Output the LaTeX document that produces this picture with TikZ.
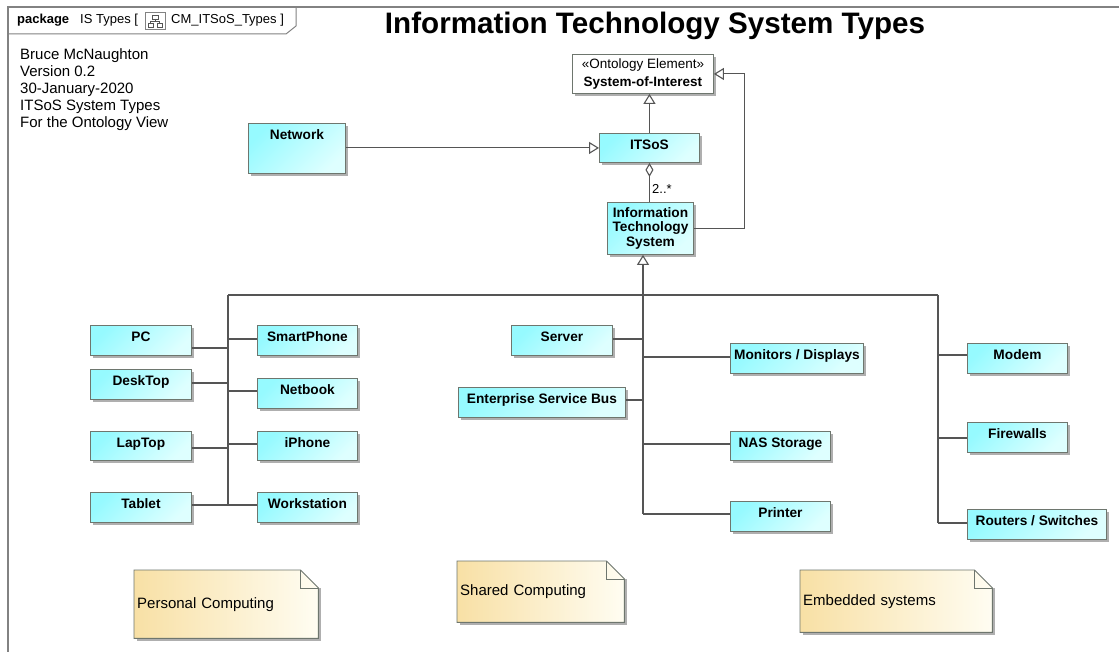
\documentclass[tikz,border=0pt]{standalone}
\usepackage{fontspec}
\setmainfont{Liberation Sans}
\usetikzlibrary{arrows.meta,shadows,backgrounds}
\definecolor{cyanA}{RGB}{150,250,255}
\definecolor{cyanB}{RGB}{222,255,255}
\definecolor{bordc}{RGB}{110,118,110}
\definecolor{linec}{RGB}{85,85,85}
\definecolor{frmc}{RGB}{130,130,130}
\definecolor{noteA}{RGB}{248,224,165}
\definecolor{noteB}{RGB}{255,253,242}
\definecolor{shadc}{RGB}{175,175,175}
\begin{document}
\begin{tikzpicture}[x=1pt,y=-1pt,
  clsbase/.style={draw=bordc, line width=0.9pt, anchor=north west, inner xsep=2pt, inner ysep=0pt,
    font=\fontsize{13.7}{15}\selectfont\bfseries,
    drop shadow={shadow xshift=3pt, shadow yshift=-3pt, fill=shadc, opacity=1}},
  cls/.style={clsbase, top color=cyanA, bottom color=cyanB, shading angle=45},
  toptext/.style={text height=16pt, text depth=#1},
  conn/.style={draw=linec, line width=1.1pt},
  gen/.style={conn, -{Triangle[open, length=10pt, width=12pt, line width=1.1pt]}},
  agg/.style={conn, {Diamond[open, length=14pt, width=8pt, line width=1.1pt]}-},
  plain/.style={inner sep=0pt, font=\fontsize{15}{17}\selectfont},
  small/.style={inner sep=0pt, font=\fontsize{13}{15}\selectfont},
  notetxt/.style={anchor=north west, inner xsep=3pt, inner ysep=0pt, text width=178pt, align=left, font=\fontsize{15}{17}\selectfont}
]
\useasboundingbox (0,0) rectangle (1119,652);

% frame
\draw[frmc, line width=2pt] (1125,7) -- (8,7) -- (8,660);
\draw[frmc, line width=1pt] (8,34) -- (286,34) -- (296,26) -- (296,7);
\node[small, anchor=base west] (pkg) at (17,24) {\textbf{package}\hspace{11pt}IS Types [};
\draw[frmc, line width=0.7pt, fill=white] (145,12) rectangle (165,29);
\draw[linec, line width=0.7pt] (152,15) rectangle (158,19) (148,23) rectangle (153,27) (157,23) rectangle (162,27)
  (155,19) -- (155,21) (150.5,21) -- (159.5,21) (150.5,21) -- (150.5,23) (159.5,21) -- (159.5,23);
\node[small, anchor=base west] (pkgname) at (171,24) {CM\_ITSoS\_Types ]};

% title and author block
\node[anchor=base, inner sep=0pt, font=\fontsize{29.6}{32}\selectfont\bfseries] (title) at (655,34) {Information Technology System Types};
\node[plain, anchor=north west, align=left] (author) at (20,48) {Bruce McNaughton\\Version 0.2\\30-January-2020\\ITSoS System Types\\For the Ontology View};

% top classes
\node[clsbase, fill=white, minimum width=141pt, minimum height=39pt, align=center, font=\fontsize{13.5}{18}\selectfont\bfseries] (soi) at (572,54) {{\mdseries «Ontology Element»}\\System-of-Interest};
\node[cls, minimum width=100pt, toptext=13pt] (itsos) at (599,133) {ITSoS};
\node[cls, minimum width=97pt, toptext=34pt] (network) at (248,123) {Network};
\node[cls, minimum width=86pt, minimum height=52pt, align=center, font=\fontsize{13.7}{14.5}\selectfont\bfseries] (its) at (607,202) {Information\\Technology\\System};

% left group
\node[cls, minimum width=101pt, toptext=14pt] (pc) at (90,325) {PC};
\node[cls, minimum width=101pt, toptext=14pt] (desktop) at (90,369) {DeskTop};
\node[cls, minimum width=101pt, toptext=13pt] (laptop) at (90,431) {LapTop};
\node[cls, minimum width=101pt, toptext=14pt] (tablet) at (90,492) {Tablet};
\node[cls, minimum width=100pt, toptext=14pt] (smartphone) at (257,325) {SmartPhone};
\node[cls, minimum width=100pt, toptext=14pt] (netbook) at (257,378) {Netbook};
\node[cls, minimum width=100pt, toptext=13pt] (iphone) at (257,431) {iPhone};
\node[cls, minimum width=100pt, toptext=14pt] (workstation) at (257,492) {Workstation};

% middle group
\node[cls, minimum width=101pt, toptext=14pt] (server) at (511,325) {Server};
\node[cls, minimum width=167pt, toptext=14pt] (esb) at (458,387) {Enterprise Service Bus};
\node[cls, minimum width=133pt, toptext=14pt] (monitors) at (730,343) {Monitors / Displays};
\node[cls, minimum width=100pt, toptext=13pt] (nas) at (730,431) {NAS Storage};
\node[cls, minimum width=100pt, toptext=14pt] (printer) at (730,501) {Printer};

% right group
\node[cls, minimum width=100pt, toptext=14pt] (modem) at (967,343) {Modem};
\node[cls, minimum width=100pt, toptext=14pt] (firewalls) at (967,422) {Firewalls};
\node[cls, minimum width=139pt, toptext=14pt] (routers) at (967,509) {Routers / Switches};

% notes
\node[notetxt, minimum height=68pt] (pnote) at (134,570) {Personal Computing};
\node[notetxt, text width=161pt, minimum height=61pt] (snote) at (457,561) {Shared Computing};
\node[notetxt, text width=186pt, minimum height=62pt] (enote) at (800,570) {Embedded systems};
\begin{pgfonlayer}{background}
\fill[white] (0,0) rectangle (1119,652);
\foreach \n in {pnote,snote,enote}{
  \fill[shadc] ([xshift=3pt,yshift=-3pt]\n.south west) rectangle ([xshift=3pt,yshift=-18pt]\n.north east);
  \shadedraw[left color=noteA, right color=noteB, draw=bordc, line width=0.9pt]
    (\n.south west) -- (\n.north west) -- ([xshift=-18pt]\n.north east) -- ([yshift=-18pt]\n.north east) -- (\n.south east) -- cycle;
  \draw[bordc, line width=0.9pt] ([xshift=-18pt]\n.north east) -- ([xshift=-18pt,yshift=-18pt]\n.north east) -- ([yshift=-18pt]\n.north east);
}
\end{pgfonlayer}

% upper connectors
\draw[gen] (network.east |- itsos.west) -- (itsos.west);
\draw[gen] (itsos.north) -- (itsos.north |- soi.south);
\draw[agg] (itsos.south) -- (itsos.south |- its.north);
\node[small, anchor=west] (mult) at (652,189) {2..*};
\draw[gen] (its.east) -- ++(51,0) |- (soi.east);

% generalisation tree
\coordinate (lt) at (228,295);
\coordinate (mt) at (643,295);
\coordinate (rt) at (938,295);
\draw[gen] (mt) -- (mt |- its.south);
\draw[conn] (lt) -- (rt);
\draw[conn] (lt) -- (228,505) coordinate (lb);
\draw[conn] (mt) -- (643,514) coordinate (mb);
\draw[conn] (rt) -- (938,523) coordinate (rb);

\draw[conn] (pc.east |- 0,348) -- (lt |- 0,348);
\draw[conn] (desktop.east |- 0,383) -- (lt |- 0,383);
\draw[conn] (laptop.east |- 0,448) -- (lt |- 0,448);
\draw[conn] (tablet.east |- lb) -- (lb);
\draw[conn] (smartphone.west |- 0,339) -- (lt |- 0,339);
\draw[conn] (netbook.west |- 0,391) -- (lt |- 0,391);
\draw[conn] (iphone.west |- 0,444) -- (lt |- 0,444);
\draw[conn] (workstation.west |- lb) -- (lb);

\draw[conn] (server.east |- 0,339) -- (mt |- 0,339);
\draw[conn] (esb.east |- 0,400) -- (mt |- 0,400);
\draw[conn] (monitors.west |- 0,357) -- (mt |- 0,357);
\draw[conn] (nas.west |- 0,444) -- (mt |- 0,444);
\draw[conn] (printer.west |- mb) -- (mb);

\draw[conn] (modem.west |- 0,355) -- (rt |- 0,355);
\draw[conn] (firewalls.west |- 0,438) -- (rt |- 0,438);
\draw[conn] (routers.west |- rb) -- (rb);
\end{tikzpicture}
\end{document}
